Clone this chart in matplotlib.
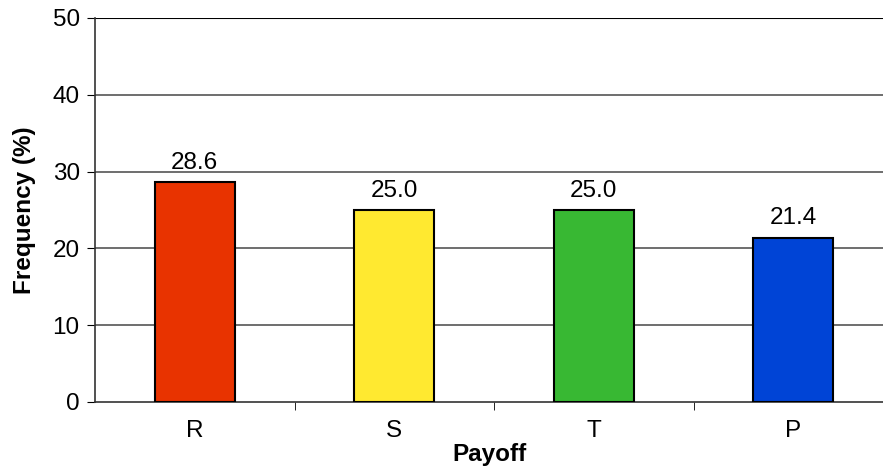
import numpy as np
import matplotlib
matplotlib.use('Agg')
from matplotlib import pyplot as plt

plt.rcParams['font.family'] = ['Liberation Sans', 'DejaVu Sans']

categories = ['R', 'S', 'T', 'P']
frequency = [28.6, 25.0, 25.0, 21.4]
colours = ['#E83300', '#FFE930', '#38B833', '#0044D6']

fs = 17.5

fig = plt.figure(figsize=(8.83, 4.72), dpi=100)
W, H = 883., 472.
ax = fig.add_axes([95/W, (H-402)/H, 788/W, 384/H])

x = np.arange(len(categories))
ax.bar(x, frequency, width=0.4, color=colours, edgecolor='black', lw=1.5, zorder=3)
for xi, v in zip(x, frequency):
    ax.text(xi, v + 1.1, '%.1f' % v, ha='center', va='bottom', fontsize=fs)

## Grid
for y in [10, 20, 30, 40]:
    ax.axhline(y, color='#555555', lw=1.2, zorder=1)
ax.axhline(50, color='black', lw=1.5, zorder=1)

ax.set_ylim(0, 50)
ax.set_xlim(-0.5, -0.5 + 788/199.5)
ax.set_yticks([0, 10, 20, 30, 40, 50])
ax.set_xticks(x)
ax.set_xticklabels(categories)
ax.set_xticks(np.arange(0.5, 3.5, 1.0), minor=True)
ax.tick_params(axis='x', which='major', length=0, pad=13, labelsize=fs)
ax.tick_params(axis='x', which='minor', length=6, direction='out')
ax.tick_params(axis='y', length=6, direction='out', labelsize=fs, pad=5)

ax.spines['top'].set_visible(False)
ax.spines['right'].set_visible(False)
ax.spines['left'].set_color('#333333')
ax.spines['bottom'].set_color('#333333')
ax.spines['left'].set_linewidth(1.2)
ax.spines['bottom'].set_linewidth(1.2)

ax.set_xlabel('Payoff', fontsize=fs, fontweight='bold', labelpad=1)
ax.set_ylabel('Frequency (%)', fontsize=fs, fontweight='bold', labelpad=12)

plt.savefig('out.png', dpi=100)
